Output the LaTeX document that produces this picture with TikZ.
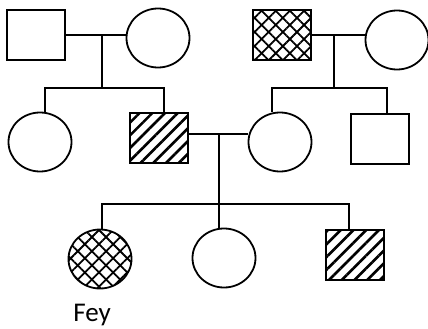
\documentclass[tikz,border=0pt]{standalone}
\usepackage{fontspec}
\setmainfont{Carlito}
\usetikzlibrary{shapes.geometric,patterns.meta}

\tikzset{
  male/.style={draw, rectangle, minimum width=58pt, minimum height=50pt, inner sep=0pt},
  female/.style={draw, ellipse, minimum width=63pt, minimum height=59pt, inner sep=0pt},
  striped/.style={pattern={Lines[angle=45, distance=9pt, line width=2.6pt]}},
  crossed/.style={pattern={Lines[angle=45, distance=10pt, line width=1.8pt]},
    postaction={pattern={Lines[angle=-45, distance=10pt, line width=1.8pt]}}},
}

\begin{document}
\begin{tikzpicture}[x=1pt, y=-1pt, line width=1.8pt]
        \useasboundingbox (0,0) rectangle (428,329);

        % --- Nonni (prima generazione) ---
        \node[male] (gpa1) at (36,35) {};
        \node[female] (gma1) at (158,38) {};
        \node[male, crossed] (gpa2) at (282,35) {};
        \node[female] (gma2) at (397,40) {};

        % --- Genitori e zii ---
        \node[female] (aunt) at (40,142) {};
        \node[male, striped] (dad) at (159,138) {};
        \node[female] (mom) at (280,142) {};
        \node[male] (uncle) at (380,139) {};

        % --- Figli ---
        \node[female, crossed] (fey) at (100,259) {};
        \node[female] (sis) at (224,258) {};
        \node[male, striped] (bro) at (355,255) {};
        \node[font=\fontsize{27}{32}\selectfont, anchor=base] (feyname) at (92,321) {Fey};

        % --- Punti di unione e linee dei fratelli ---
        \coordinate (u1) at (102,35);
        \coordinate (s1) at (102,88);
        \coordinate (u2) at (334,35);
        \coordinate (s2) at (334,88);
        \coordinate (u3) at (219,134);
        \coordinate (s3) at (219,204);

        % Matrimoni
        \draw (gpa1.east |- u1) -- (gma1.west |- u1);
        \draw (gpa2.east |- u2) -- (gma2.west |- u2);
        \draw (dad.east |- u3) -- (mom.west |- u3);

        % Discendenza
        \draw (u1) -- (s1);
        \draw ([xshift=5pt]aunt.north) |- (s1) -| ([xshift=5pt]dad.north);
        \draw (u2) -- (s2);
        \draw ([xshift=-8pt]mom.north) |- (s2) -| ([xshift=7pt]uncle.north);
        \draw (u3) -- ([xshift=-5pt]sis.north);
        \draw ([xshift=2pt]fey.north) |- (s3) -| ([xshift=-6pt]bro.north);

    \end{tikzpicture}
\end{document}
